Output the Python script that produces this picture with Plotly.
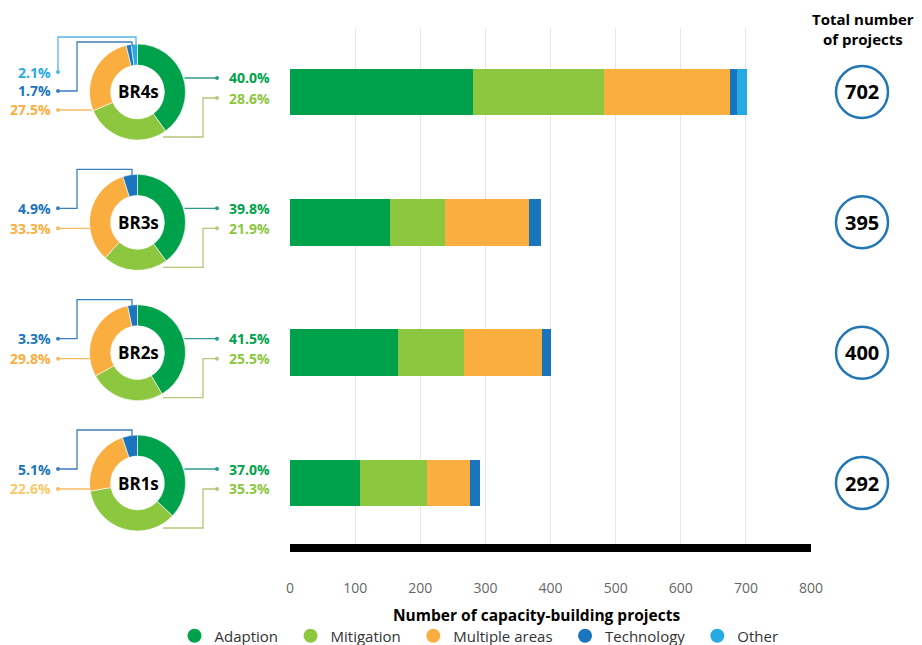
import plotly.graph_objects as go

# ---------------- data ----------------
reports = ["BR1s", "BR2s", "BR3s", "BR4s"]
categories = ["Adaption", "Mitigation", "Multiple areas", "Technology", "Other"]
adaptation = [108, 166, 154, 281]
mitigation = [103, 101, 84, 201]
multiple_areas = [66, 120, 129, 193]
technology = [15, 13, 19, 12]
other = [0, 0, 0, 15]
totals = [292, 400, 395, 702]

pct_adaptation = [37.0, 41.5, 39.8, 40.0]
pct_mitigation = [35.3, 25.5, 21.9, 28.6]
pct_multiple = [22.6, 29.8, 33.3, 27.5]
pct_technology = [5.1, 3.3, 4.9, 1.7]
pct_other = [0.0, 0.0, 0.0, 2.1]

x_ticks = [0, 100, 200, 300, 400, 500, 600, 700, 800]

# ---------------- style ----------------
W, H = 922, 645
colors = ["#00a14b", "#8dc63f", "#fbae40", "#1b75bc", "#27aae1"]
line_colors = ["#2f9c8f", "#b9c47c", "#f7bb68", "#3b7fb9", "#55b8df"]
FONT = "Open Sans"

PLOT_L, PLOT_R = 290, 811
PLOT_T, PLOT_B = 28, 548
Y_TOP_C, Y_BOT_C = 92, 483  # pixel centres of BR4s and BR1s rows
unit = (Y_BOT_C - Y_TOP_C) / 3.0
y_range = [-(PLOT_B - Y_BOT_C) / unit, 3 + (Y_TOP_C - PLOT_T) / unit]


def px(x):
    return x / W


def py(y):
    return 1 - y / H


fig = go.Figure()

series = [adaptation, mitigation, multiple_areas, technology, other]
ypos = list(range(len(reports)))
for name, vals, col in zip(categories, series, colors):
    fig.add_trace(go.Bar(
        y=ypos, x=vals, orientation="h", name=name,
        marker=dict(color=col, line=dict(width=0)),
        width=0.357, showlegend=False, hoverinfo="x+name",
    ))
for k, (name, col) in enumerate(zip(categories, colors)):
    fig.add_trace(go.Scatter(
        x=[None], y=[None], mode="markers",
        name=name + ("\u2002" if k < len(categories) - 1 else ""),
        marker=dict(color=col, size=14, symbol="circle"),
        showlegend=True,
    ))

shapes = []
annotations = []

# bottom thick black line
shapes.append(dict(type="line", xref="x", yref="paper", x0=0, x1=800,
                   y0=py(PLOT_B), y1=py(PLOT_B),
                   line=dict(color="black", width=8)))

pcts = [pct_adaptation, pct_mitigation, pct_multiple, pct_technology, pct_other]
CX = 137.5
R = 48


def dot(x, y, col):
    shapes.append(dict(type="circle", xref="paper", yref="paper",
                       xsizemode="pixel", ysizemode="pixel",
                       xanchor=px(x), yanchor=py(y),
                       x0=-2, x1=2, y0=-2, y1=2,
                       fillcolor=col, line=dict(width=0)))


def poly(points, col):
    path = "M " + " L ".join(f"{px(a)},{py(b)}" for a, b in points)
    shapes.append(dict(type="path", xref="paper", yref="paper", path=path,
                       line=dict(color=col, width=1.3)))


def text(x, y, s, col, size, anchor="center"):
    annotations.append(dict(x=px(x), y=py(y), xref="paper", yref="paper",
                            text=s, showarrow=False,
                            xanchor=anchor, yanchor="middle", align="center",
                            font=dict(family=FONT, size=size, color=col)))


for i, rep in enumerate(reports):
    c = Y_BOT_C - unit * i
    vals = [p[i] for p in pcts]
    lbls = [c_ for c_, v in zip(categories, vals) if v > 0]
    vv = [v for v in vals if v > 0]
    cc = [col for col, v in zip(colors, vals) if v > 0]
    fig.add_trace(go.Pie(
        values=vv, labels=lbls, hole=0.56, sort=False, direction="clockwise",
        rotation=0, textinfo="none", showlegend=False,
        marker=dict(colors=cc, line=dict(color="white", width=0.6)),
        domain=dict(x=[px(CX - R), px(CX + R)], y=[py(c + R), py(c - R)]),
    ))
    text(CX + 1, c, f"<b>{rep}</b>", "black", 17)

    # right labels: adaptation and mitigation
    poly([(CX + R - 1, c - 14), (217, c - 14)], line_colors[0])
    dot(217, c - 14, line_colors[0])
    text(227, c - 14, f"<b>{vals[0]:.1f}%</b>", colors[0], 14, "left")
    poly([(217, c + 6), (203, c + 6), (203, c + 45), (163, c + 45)], line_colors[1])
    dot(217, c + 6, line_colors[1])
    text(227, c + 6, f"<b>{vals[1]:.1f}%</b>", colors[1], 14, "left")

    # left labels
    if vals[4] > 0:
        y_o, y_t, y_m = c - 20, c - 1, c + 18
        poly([(58, y_o), (58, c - 55), (136, c - 55), (136, c - 46)], line_colors[4])
        dot(58, y_o, line_colors[4])
        text(53, y_o, f"<b>{vals[4]:.1f}%</b>", colors[4], 14, "right")
        top_t = c - 50
    else:
        y_t, y_m = c - 14, c + 6
        top_t = c - 53
    poly([(58, y_t), (77, y_t), (77, top_t), (132, top_t), (132, c - 46)], line_colors[3])
    dot(58, y_t, line_colors[3])
    text(53, y_t, f"<b>{vals[3]:.1f}%</b>", colors[3], 14, "right")
    poly([(58, y_m), (CX - R + 2, y_m)], line_colors[2])
    dot(58, y_m, line_colors[2])
    text(53, y_m, f"<b>{vals[2]:.1f}%</b>", colors[2] if i != 0 else "#f9c96b", 14, "right")

    # total circle
    shapes.append(dict(type="circle", xref="paper", yref="paper",
                       xsizemode="pixel", ysizemode="pixel",
                       xanchor=px(862), yanchor=py(c),
                       x0=-26, x1=26, y0=-26, y1=26,
                       fillcolor="white", line=dict(color="#2176b5", width=2.5)))
    text(862, c, f"<b>{totals[i]}</b>", "black", 20)

text(863, 29, "<b>Total number<br>of projects</b>", "black", 15)
text(536, 615, "<b>Number of capacity-building projects</b>", "black", 15.5)

fig.update_layout(
    width=W, height=H,
    autosize=False,
    margin=dict(l=0, r=0, t=0, b=0, autoexpand=False),
    paper_bgcolor="white", plot_bgcolor="white",
    font=dict(family=FONT, color="#555"),
    barmode="stack",
    bargap=0,
    xaxis=dict(domain=[px(PLOT_L), px(PLOT_R)], range=[0, 800],
               tickvals=x_ticks, ticktext=[str(t) for t in x_ticks],
               showgrid=True, gridcolor="#e6e6e6", gridwidth=1,
               zeroline=False, showline=False, ticks="",
               ticklabelstandoff=30,
               tickfont=dict(family=FONT, size=14, color="#666"),
               automargin=False, fixedrange=True),
    yaxis=dict(domain=[py(PLOT_B), py(PLOT_T)], range=y_range,
               showgrid=False, zeroline=False, showticklabels=False,
               showline=False, automargin=False, fixedrange=True),
    legend=dict(orientation="h", x=px(479), xanchor="center", y=py(636),
                yanchor="middle", traceorder="normal",
                font=dict(family=FONT, size=15, color="#333"),
                bgcolor="rgba(0,0,0,0)", itemclick=False),
    shapes=shapes,
    annotations=annotations,
)

fig.write_html(
    "out.html",
    config={"responsive": False, "displayModeBar": False},
    post_script="document.body.style.margin='0';document.body.style.overflow='hidden';",
)
